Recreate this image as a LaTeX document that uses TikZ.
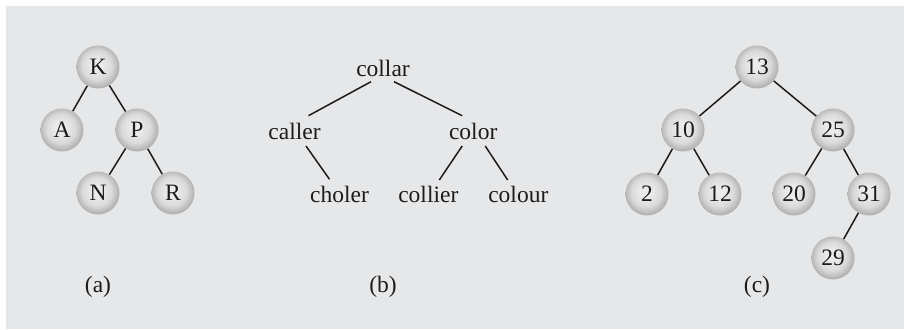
\documentclass[tikz,border=0pt]{standalone}
\usepackage{fontspec}
\setmainfont{Liberation Serif}
\usetikzlibrary{calc}
\definecolor{bg}{HTML}{E6E7E8}
\definecolor{ink}{HTML}{1E1B1C}
\definecolor{ballin}{HTML}{EBEBEB}
\definecolor{ballmid}{HTML}{DADADA}
\definecolor{ballout}{HTML}{B3B3B3}
\pgfdeclareradialshading{ballshade}{\pgfpoint{-2bp}{3bp}}{color(0bp)=(ballin); color(6bp)=(ballin); color(17bp)=(ballmid); color(25bp)=(ballout); color(50bp)=(ballout)}
\begin{document}
\begin{tikzpicture}[x=1pt,y=-1pt,
  every node/.style={font=\fontsize{23.5}{27}\selectfont, text=ink},
  ball/.style={circle, minimum size=43pt, inner sep=0pt, shading=ballshade},
  word/.style={anchor=base, inner sep=0pt},
  link/.style={draw=ink, line width=1.5pt}]
\useasboundingbox (0,0) rectangle (904,329);
\fill[white] (0,0) rectangle (904,329);
\fill[bg] (6,6) rectangle (904,329);
% (a)
\node[ball] (K) at (98,67) {K};
\node[ball] (A) at (62,130) {A};
\node[ball] (P) at (137,130) {P};
\node[ball] (N) at (98,193) {N};
\node[ball] (R) at (173,193) {R};
\draw[link] (K) -- (A);
\draw[link] (K) -- (P);
\draw[link] (P) -- (N);
\draw[link] (P) -- (R);
\node (la) at (98,287) {(a)};
% (b)
\node[word] (collar) at (383,76) {collar};
\node[word] (caller) at (294.5,139.3) {caller};
\node[word] (color) at (473.2,139.3) {color};
\node[word] (choler) at (339.5,202.7) {choler};
\node[word] (collier) at (428.3,202.7) {collier};
\node[word] (colour) at (518.3,202.7) {colour};
\draw[link] ($(collar.base)+(-12,5.7)$) -- ($(caller.base)+(14,-23.6)$);
\draw[link] ($(collar.base)+(11,5.7)$) -- ($(color.base)+(-11,-23.6)$);
\draw[link] ($(caller.base)+(11.5,6.7)$) -- ($(choler.base)+(-10,-23.4)$);
\draw[link] ($(color.base)+(-11,6.7)$) -- ($(collier.base)+(11,-22.7)$);
\draw[link] ($(color.base)+(12,6.7)$) -- ($(colour.base)+(-10.6,-22.7)$);
\node (lb) at (383,287) {(b)};
% (c)
\node[ball] (n13) at (757,67) {13};
\node[ball] (n10) at (683,130) {10};
\node[ball] (n25) at (833,130) {25};
\node[ball] (n2) at (647,194) {2};
\node[ball] (n12) at (720,194) {12};
\node[ball] (n20) at (794,194) {20};
\node[ball] (n31) at (869,194) {31};
\node[ball] (n29) at (833,258) {29};
\draw[link] (n13) -- (n10);
\draw[link] (n13) -- (n25);
\draw[link] (n10) -- (n2);
\draw[link] (n10) -- (n12);
\draw[link] (n25) -- (n20);
\draw[link] (n25) -- (n31);
\draw[link] (n31) -- (n29);
\node (lc) at (757,287) {(c)};
\end{tikzpicture}
\end{document}
